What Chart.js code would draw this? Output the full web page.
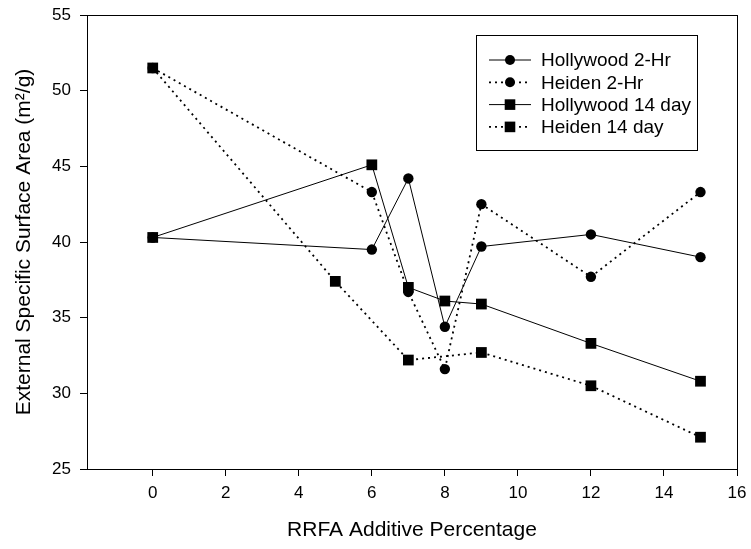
<!DOCTYPE html>
<html>
<head>
<meta charset="utf-8">
<script src="https://cdn.jsdelivr.net/npm/chart.js@4.4.1/dist/chart.umd.min.js"></script>
<style>
  html, body { margin: 0; padding: 0; background: #fff; }
  #chart { display: block; }
</style>
</head>
<body>
<canvas id="chart" width="751" height="549"></canvas>
<script>
// values
const hollywood2hX = [0, 6, 7, 8, 9, 12, 15];
const hollywood2hY = [40.3, 39.5, 44.2, 34.4, 39.7, 40.5, 39.0];
const heiden2hX = [0, 6, 7, 8, 9, 12, 15];
const heiden2hY = [51.5, 43.3, 36.7, 31.6, 42.5, 37.7, 43.3];
const hollywood14X = [0, 6, 7, 8, 9, 12, 15];
const hollywood14Y = [40.3, 45.1, 37.0, 36.1, 35.9, 33.3, 30.8];
const heiden14X = [0, 5, 7, 9, 12, 15];
const heiden14Y = [51.5, 37.4, 32.2, 32.7, 30.5, 27.1];

const xTicks = [0, 2, 4, 6, 8, 10, 12, 14, 16];
const yTicks = [25, 30, 35, 40, 45, 50, 55];

const FONT = '"Liberation Sans", Arial, sans-serif';
const DOT = [2, 4];

const pts = (xs, ys) => xs.map((x, i) => ({ x, y: ys[i] }));

function series(label, xs, ys, dotted, marker) {
  return {
    label,
    data: pts(xs, ys),
    borderColor: '#000',
    backgroundColor: '#000',
    borderWidth: dotted ? 1.8 : 1,
    borderDash: dotted ? DOT : [],
    pointStyle: marker,
    pointRadius: marker === 'rect' ? 7.6 : 5.2,
    pointBorderWidth: 0,
    pointBackgroundColor: '#000',
    tension: 0,
  };
}

// frame + boxed legend inside the plot, SigmaPlot style
const framePlugin = {
  id: 'frame',
  afterDraw(chart) {
    const { ctx, chartArea: a } = chart;
    ctx.save();
    ctx.strokeStyle = '#000';
    ctx.lineWidth = 1;
    ctx.strokeRect(a.left + 0.5, a.top + 0.5, a.right - a.left, a.bottom - a.top);

    const bx = 476, by = 35, bw = 221, bh = 115;
    ctx.strokeRect(bx + 0.5, by + 0.5, bw, bh);
    ctx.font = '19px ' + FONT;
    ctx.textBaseline = 'middle';
    ctx.fillStyle = '#000';
    chart.data.datasets.forEach((ds, i) => {
      const y = 60 + i * 22.3;
      ctx.beginPath();
      ctx.setLineDash(ds.borderDash);
      ctx.lineWidth = ds.borderWidth;
      ctx.moveTo(489, y);
      ctx.lineTo(531, y);
      ctx.stroke();
      ctx.setLineDash([]);
      ctx.beginPath();
      if (ds.pointStyle === 'rect') ctx.rect(510 - 5.3, y - 5.3, 10.6, 10.6);
      else ctx.arc(510, y, 5, 0, Math.PI * 2);
      ctx.fill();
      ctx.fillText(ds.label, 541, y + 1);
    });
    ctx.restore();
  }
};

new Chart(document.getElementById('chart'), {
  type: 'line',
  data: {
    datasets: [
      series('Hollywood 2-Hr', hollywood2hX, hollywood2hY, false, 'circle'),
      series('Heiden 2-Hr', heiden2hX, heiden2hY, true, 'circle'),
      series('Hollywood 14 day', hollywood14X, hollywood14Y, false, 'rect'),
      series('Heiden 14 day', heiden14X, heiden14Y, true, 'rect'),
    ],
  },
  options: {
    responsive: false,
    animation: false,
    devicePixelRatio: 1,
    layout: { padding: { top: 15, right: 14, left: 0, bottom: 0 } },
    plugins: {
      legend: { display: false },
      tooltip: { enabled: false },
    },
    scales: {
      x: {
        type: 'linear',
        min: -1.8,
        max: 16,
        afterBuildTicks: (s) => { s.ticks = xTicks.map(v => ({ value: v })); },
        afterFit: (s) => { s.height = 80; s.paddingLeft = 0; s.paddingRight = 0; },
        border: { display: true, color: '#000', width: 1 },
        grid: { drawOnChartArea: false, drawTicks: true, tickLength: 7, color: '#000' },
        ticks: { color: '#000', padding: 7, font: { family: FONT, size: 17 } },
        title: {
          display: true,
          text: 'RRFA Additive Percentage',
          color: '#000',
          font: { family: FONT, size: 21 },
          padding: { top: 0, bottom: 6 },
        },
      },
      y: {
        type: 'linear',
        min: 25,
        max: 55,
        afterBuildTicks: (s) => { s.ticks = yTicks.map(v => ({ value: v })); },
        afterFit: (s) => { s.width = 87; s.paddingTop = 0; s.paddingBottom = 0; },
        border: { display: true, color: '#000', width: 1 },
        grid: { drawOnChartArea: false, drawTicks: true, tickLength: 7, color: '#000' },
        ticks: { color: '#000', padding: 9, font: { family: FONT, size: 17 } },
        title: {
          display: true,
          text: 'External Specific Surface Area (m\u00B2/g)',
          color: '#000',
          font: { family: FONT, size: 21 },
          padding: { top: 12, bottom: 0 },
        },
      },
    },
  },
  plugins: [framePlugin],
});
</script>
</body>
</html>
